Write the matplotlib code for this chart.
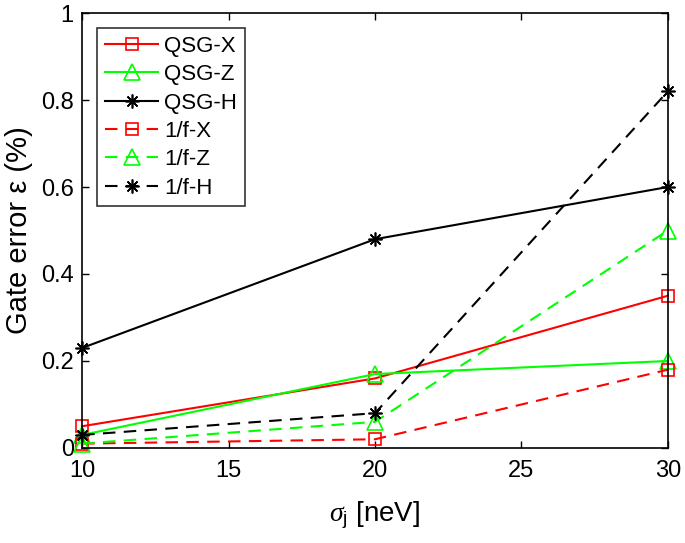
import matplotlib
matplotlib.use("Agg")
import matplotlib.pyplot as plt

plt.rcParams['font.family'] = ['Liberation Sans', 'DejaVu Sans']
plt.rcParams['mathtext.fontset'] = 'custom'
plt.rcParams['mathtext.it'] = 'Liberation Serif:italic'
plt.rcParams['mathtext.rm'] = 'Liberation Sans'

sigma = [10, 20, 30]
qsg_x = [0.05, 0.16, 0.35]
qsg_z = [0.03, 0.17, 0.20]
qsg_h = [0.23, 0.48, 0.60]
f_x = [0.01, 0.02, 0.18]
f_z = [0.01, 0.06, 0.50]
f_h = [0.03, 0.08, 0.82]

fig = plt.figure(figsize=(6.85, 5.43), dpi=100)
ax = fig.add_axes([0.12, 0.175, 0.855, 0.801])

red = '#ff0000'
green = '#00ff00'
black = '#000000'
lw = 1.5
star = (8, 2, 0)
common = dict(lw=lw, mew=1.2, clip_on=False)
ax.plot(sigma, qsg_x, '-', color=red, marker='s', mfc='none', ms=8, label='QSG-X', **common)
ax.plot(sigma, qsg_z, '-', color=green, marker='^', mfc='none', ms=12, label='QSG-Z', **common)
ax.plot(sigma, qsg_h, '-', color=black, marker=star, ms=10, label='QSG-H', **common)
ax.plot(sigma, f_x, '--', color=red, marker='s', mfc='none', ms=8, dashes=(6, 4), label='1/f-X', **common)
ax.plot(sigma, f_z, '--', color=green, marker='^', mfc='none', ms=12, dashes=(6, 4), label='1/f-Z', **common)
ax.plot(sigma, f_h, '--', color=black, marker=star, ms=10, dashes=(6, 4), label='1/f-H', **common)

ax.set_xlim(10, 30)
ax.set_ylim(0, 1)
ax.set_xticks([10, 15, 20, 25, 30])
ax.set_yticks([0, 0.2, 0.4, 0.6, 0.8, 1])
ax.set_yticklabels(['0', '0.2', '0.4', '0.6', '0.8', '1'])
ax.tick_params(direction='in', top=True, right=True, labelsize=17, length=5, width=1)
ax.tick_params(axis='x', pad=9)
ax.tick_params(axis='y', pad=6)
for s in ax.spines.values():
    s.set_linewidth(1.2)

ax.set_xlabel(r'$\sigma_{\mathrm{j}}$ [neV]', fontsize=20, labelpad=12)
ax.set_ylabel('Gate error ε (%)', fontsize=21, labelpad=6)

leg = ax.legend(loc='upper left', fontsize=16, frameon=True, fancybox=False,
                edgecolor='black', borderpad=0.35, labelspacing=0.33,
                handlelength=2.4, handletextpad=0.25,
                bbox_to_anchor=(0.0, 1.0), borderaxespad=0.68)
leg.get_frame().set_linewidth(1.2)

fig.savefig('out.png', dpi=100)
